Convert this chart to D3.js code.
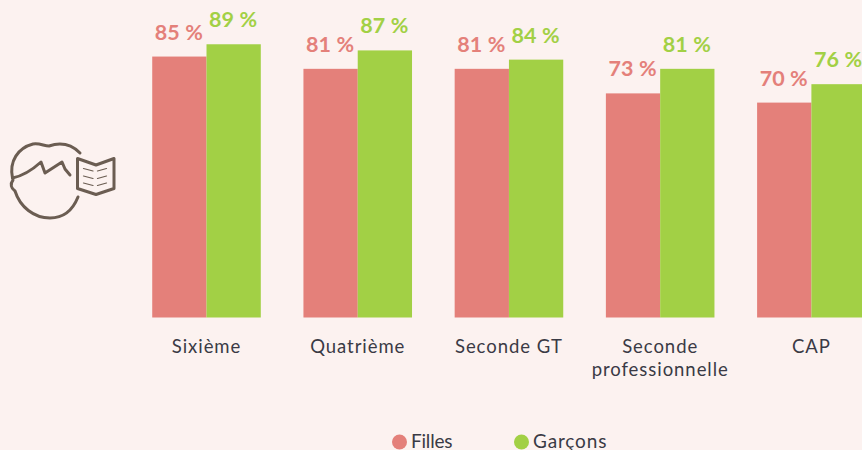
<!DOCTYPE html>
<html><head><meta charset="utf-8">
<script src="https://cdn.jsdelivr.net/npm/d3@7"></script>
<style>html,body{margin:0;padding:0;background:#fcf2f0;overflow:hidden}svg{display:block}</style>
</head><body><svg id="c" width="862" height="450"></svg>
<script>
const categories = [["Sixième"],["Quatrième"],["Seconde GT"],["Seconde","professionnelle"],["CAP"]];
const seriesNames = ["Filles","Garçons"];
const filles = [85,81,81,73,70];
const garcons = [89,87,84,81,76];
const colors = ["#e4807a","#a2d045"];
const font = "Lato, 'Open Sans', sans-serif";
const svg = d3.select("#c");
const ids = categories.map((c,i)=>i);
const x = d3.scaleBand().domain(ids).range([130.9,887]).paddingInner(0.282).paddingOuter(0.141);
const xi = d3.scaleBand().domain([0,1]).range([0,x.bandwidth()]);
const y = d3.scaleLinear().domain([0,100]).range([317.5,10.5]);
[filles,garcons].forEach((vals,s)=>{
  const g = svg.append("g");
  g.selectAll("rect").data(vals).join("rect")
    .attr("x",(d,i)=>x(i)+xi(s)).attr("width",xi.bandwidth())
    .attr("y",d=>y(d)).attr("height",d=>y(0)-y(d)).attr("fill",colors[s]);
  g.selectAll("text").data(vals).join("text")
    .attr("x",(d,i)=>x(i)+xi(s)+xi.bandwidth()/2-0.5)
    .attr("y",d=>y(d)-17).attr("text-anchor","middle")
    .attr("font-family",font).attr("font-weight",700).attr("font-size",21.5)
    .attr("letter-spacing",0.1)
    .attr("fill",colors[s]).text(d=>d+" %");
});
const axis = svg.append("g").attr("fill","#3a3a45").attr("font-family",font).attr("font-size",18.5);
categories.forEach((lines,i)=>{
  const t = axis.append("text").attr("text-anchor","middle").attr("letter-spacing",0.95);
  lines.forEach((l,k)=>t.append("tspan").attr("x",x(i)+x.bandwidth()/2).attr("y",353+k*22.5).text(l));
});
const legendX = [400,522];
const legendSpacing = [-0.2,0.85];
seriesNames.forEach((n,i)=>{
  svg.append("circle").attr("cx",legendX[i]-0.5).attr("cy",442).attr("r",7.5).attr("fill",colors[i]);
  svg.append("text").attr("x",legendX[i]+11).attr("y",447.5).attr("font-family",font)
    .attr("font-size",19).attr("letter-spacing",legendSpacing[i]).attr("fill","#3a3a45").text(n);
});
// decorative pictogram
const icon = svg.append("g").attr("fill","none").attr("stroke","#6b5d52")
  .attr("stroke-linecap","round").attr("stroke-linejoin","round");
["M12.5 178 C9 161 18 148 33 144 C40 143 44 146 49 146 C58 143 70 143 80 153",
 "M12.5 178 C22 176 30 172 41 162 L45 173 L62 162 L65 169 L70 175",
 "M13 180 C10 184 11 188 15 191 C20 207 34 218 50 218 C63 218 72 212 78 197",
 "M77.5 158.5 L96 165 L114 158.5 V188.5 L96 194.5 L77.5 188.5 Z",
 "M83.5 168.5 L93 171 M83.5 176 L93 178.5 M83.5 183 L93 185.5",
 "M106.5 168.5 L97.5 171 M106.5 176 L97.5 178.5 M106.5 183 L97.5 185.5"
].forEach((d,i)=>icon.append("path").attr("d",d).attr("stroke-width",i>3?1.2:3));
</script></body></html>
